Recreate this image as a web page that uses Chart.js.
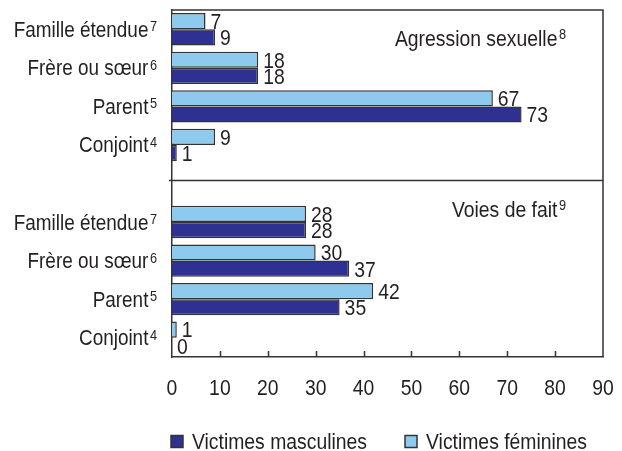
<!DOCTYPE html>
<html>
<head>
<meta charset="utf-8">
<script src="https://cdn.jsdelivr.net/npm/chart.js@4.4.1/dist/chart.umd.min.js"></script>
<style>
  html, body { margin: 0; padding: 0; background: #fff; }
</style>
</head>
<body>
<canvas id="chart" width="622" height="451"></canvas>
<script>
// rows from top to bottom, the blank row splits the two panels
const categories = ['Famille étendue', 'Frère ou sœur', 'Parent', 'Conjoint', '',
                    'Famille étendue', 'Frère ou sœur', 'Parent', 'Conjoint'];
const categoryNotes = ['7', '6', '5', '4', '', '7', '6', '5', '4'];
const femaleValues = [7, 18, 67, 9, null, 28, 30, 42, 1];
const maleValues = [9, 18, 73, 1, null, 28, 37, 35, 0];
const xTicks = [0, 10, 20, 30, 40, 50, 60, 70, 80, 90];
const panelTitles = ['Agression sexuelle', 'Voies de fait'];
const panelNotes = ['8', '9'];
const legendOrder = [1, 0]; // masculines first

// condensed look: Liberation Sans squeezed horizontally
const FONT = '"Liberation Sans", Arial, sans-serif';
const SQUEEZE = 0.88;
const INK = '#231f20';
const EDGE = '#333333';
const LIGHT = '#8ecaee';
const DARK = '#2e3192';

function textWidth(ctx, text, size) {
  ctx.font = size + 'px ' + FONT;
  return ctx.measureText(text).width * SQUEEZE;
}

function say(ctx, text, x, y, size, align) {
  ctx.save();
  ctx.font = size + 'px ' + FONT;
  ctx.textAlign = align || 'left';
  ctx.textBaseline = 'alphabetic';
  ctx.translate(x, y);
  ctx.scale(SQUEEZE, 1);
  ctx.fillText(text, 0, 0);
  ctx.restore();
}

// right-aligned text followed by a raised note number
function noted(ctx, text, note, right, baseline, size, noteSize, lift) {
  const nw = textWidth(ctx, note, noteSize);
  say(ctx, note, right, baseline - lift, noteSize, 'right');
  say(ctx, text, right - nw - 1.5, baseline, size, 'right');
}

const decorations = {
  id: 'decorations',
  afterDatasetsDraw(chart) {
    const { ctx, chartArea: a, scales: { x, y } } = chart;
    ctx.save();
    ctx.strokeStyle = EDGE;
    ctx.lineWidth = 1.5;

    // top and right sides of the frame, panel divider, inner ticks
    ctx.beginPath();
    ctx.moveTo(a.left, a.top);
    ctx.lineTo(a.right, a.top);
    ctx.lineTo(a.right, a.bottom);
    const dy = Math.round(y.getPixelForValue(3.9)) + 0.5;
    ctx.moveTo(a.left - 3, dy);
    ctx.lineTo(a.right, dy);
    xTicks.slice(1, -1).forEach(v => {
      const px = Math.round(x.getPixelForValue(v)) + 0.5;
      ctx.moveTo(px, a.bottom);
      ctx.lineTo(px, a.bottom - 6);
    });
    ctx.stroke();

    ctx.fillStyle = INK;

    // tick labels
    xTicks.forEach(v => say(ctx, String(v), x.getPixelForValue(v), a.bottom + 38, 22, 'center'));

    // value at the end of each bar
    chart.data.datasets.forEach((ds, di) => {
      chart.getDatasetMeta(di).data.forEach((bar, i) => {
        const v = ds.data[i];
        if (v === null) return;
        say(ctx, String(v), bar.x + 5, bar.y + 7.8, 22);
      });
    });

    // row labels with their note numbers
    categories.forEach((c, i) => {
      if (!c) return;
      noted(ctx, c, categoryNotes[i], a.left - 15, y.getPixelForValue(i) + 7.5, 21.5, 14.5, 5.5);
    });

    // panel titles
    const tops = [a.top, dy];
    panelTitles.forEach((t, i) => {
      noted(ctx, t, panelNotes[i], a.right - 37, tops[i] + 36, 22, 14.5, 7);
    });

    // legend under the axis
    let lx = a.left - 1;
    const ly = 441.5;
    legendOrder.forEach(di => {
      const ds = chart.data.datasets[di];
      ctx.fillStyle = ds.backgroundColor;
      ctx.fillRect(lx, ly - 6, 12, 12);
      ctx.strokeRect(lx, ly - 6, 12, 12);
      ctx.fillStyle = INK;
      const tx = lx + 21;
      say(ctx, ds.label, tx, ly + 7.5, 22);
      lx = tx + textWidth(ctx, ds.label, 22) + 38;
    });
    ctx.restore();
  }
};

new Chart(document.getElementById('chart'), {
  type: 'bar',
  data: {
    labels: categories,
    datasets: [
      {
        label: 'Victimes féminines',
        data: femaleValues,
        backgroundColor: LIGHT,
        borderColor: EDGE,
        borderWidth: 1.5
      },
      {
        label: 'Victimes masculines',
        data: maleValues,
        backgroundColor: DARK,
        borderColor: EDGE,
        borderWidth: 1.5
      }
    ]
  },
  options: {
    indexAxis: 'y',
    responsive: false,
    animation: false,
    devicePixelRatio: 1,
    categoryPercentage: 0.84,
    barPercentage: 1,
    layout: { padding: { top: 10, right: 19, left: 0, bottom: 0 } },
    scales: {
      x: {
        min: 0,
        max: 90,
        afterBuildTicks: scale => { scale.ticks = xTicks.map(v => ({ value: v })); },
        afterFit: scale => {
          scale.height = 94;
          scale.paddingLeft = 0;
          scale.paddingRight = 0;
        },
        grid: { display: false },
        border: { display: true, color: EDGE, width: 1.5 },
        ticks: { display: false }
      },
      y: {
        afterFit: scale => { scale.width = 172; },
        grid: { display: false },
        border: { display: true, color: EDGE, width: 1.5 },
        ticks: { display: false }
      }
    },
    plugins: {
      legend: { display: false },
      tooltip: { enabled: false }
    }
  },
  plugins: [decorations]
});
</script>
</body>
</html>
